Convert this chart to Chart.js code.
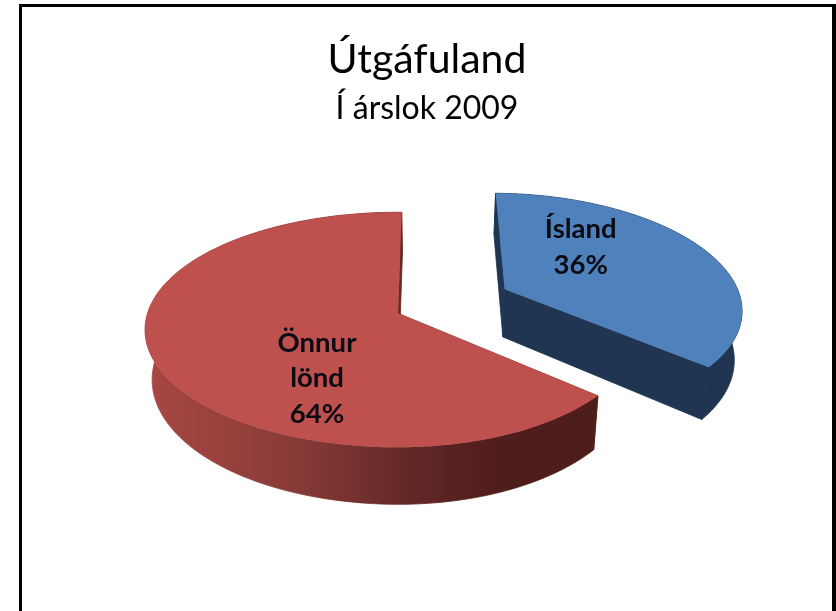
<!DOCTYPE html>
<html>
<head>
<meta charset="utf-8">
<script src="https://cdn.jsdelivr.net/npm/chart.js@4"></script>
<style>
html,body{margin:0;padding:0;background:#fff;overflow:hidden}
#frame{position:absolute;left:19px;top:4px;width:817px;height:607px;box-sizing:border-box;
border-left:3px solid #000;border-top:3px solid #000;border-right:4px solid #000;background:#fff}
canvas{display:block}
</style>
</head>
<body>
<div id="frame"><canvas id="c" width="810" height="604"></canvas></div>
<script>
const categories = ['Ísland', 'Önnur lönd'];
const labelLines = [['Ísland'], ['Önnur', 'lönd']];
const values = [36, 64];
const titleText = 'Útgáfuland';
const subtitleText = 'Í árslok 2009';
const topColors = ['#4F81BD', '#BE504D'];

const RADIUS = 200, EXPLODE = [96, 0];
const PERSP = 0.1404, SCALE_X = 250.5 / RADIUS, SCALE_Y = 115.2 / RADIUS;
const DEPTH = 49, SHRINK = 0.975, VANISH_X = 408;
const SHIFT_X = -29, NUDGE_Y = [-2, 0], RIGHT_SQUEEZE = 0.955;
const LABEL_OFFSET = [[76, -42], [-81, 65]];
const LINE_GAP = 35.5;

function rawProject(px, py) {
  const u = px / RADIUS, v = py / RADIUS, w = 1 - PERSP * v;
  return [SCALE_X * RADIUS * u / w, SCALE_Y * RADIUS * v / w, w];
}
function pieProject(cx, cy, ox, oy, px, py, nudge) {
  const c0 = rawProject(ox, oy), r = rawProject(px, py);
  let dx = r[0] - c0[0];
  if (dx > 0) dx *= RIGHT_SQUEEZE;
  const X = cx + SHIFT_X + c0[0] + dx, Y = cy + r[1] + nudge;
  return {top: [X, Y], bot: [VANISH_X + (X - VANISH_X) * SHRINK, Y + DEPTH / r[2]]};
}
function fillPoly(ctx, list, style, seal) {
  ctx.beginPath();
  list.forEach((p, i) => i ? ctx.lineTo(p[0], p[1]) : ctx.moveTo(p[0], p[1]));
  ctx.closePath();
  ctx.fillStyle = style;
  ctx.fill();
  if (seal) { ctx.strokeStyle = style; ctx.lineWidth = 0.8; ctx.stroke(); }
}
function sliceGeometry(arc, i) {
  const {x, y, startAngle: a0, endAngle: a1} = arc.getProps(['x', 'y', 'startAngle', 'endAngle'], true);
  const mid = (a0 + a1) / 2, ox = arc.options.offset * Math.cos(mid), oy = arc.options.offset * Math.sin(mid);
  const pts = [], n = 160;
  for (let k = 0; k <= n; k++) {
    const a = a0 + (a1 - a0) * k / n;
    pts.push(pieProject(x, y, ox, oy, ox + RADIUS * Math.cos(a), oy + RADIUS * Math.sin(a), NUDGE_Y[i]));
  }
  return {pts, c: pieProject(x, y, ox, oy, ox, oy, NUDGE_Y[i])};
}

const pie3d = {
  id: 'pie3d',
  beforeDatasetsDraw(chart) {
    const ctx = chart.ctx, meta = chart.getDatasetMeta(0);
    const redWall = ctx.createLinearGradient(150 - 22, 0, 600 - 22, 0);
    redWall.addColorStop(0, '#A84743');
    redWall.addColorStop(0.333, '#873A37');
    redWall.addColorStop(0.6, '#5F2624');
    redWall.addColorStop(0.78, '#4F1D1B');
    redWall.addColorStop(1, '#4E1E1C');
    const walls = ['#1F3552', redWall], sliver = ['#1F3552', '#8A3B38'];
    [1, 0].forEach(i => {
      const {pts, c} = sliceGeometry(meta.data[i], i);
      const first = pts[0], last = pts[pts.length - 1];
      ctx.save();
      fillPoly(ctx, [c.top, first.top, first.bot, c.bot], sliver[i], true);
      fillPoly(ctx, [c.top, last.top, last.bot, c.bot], walls[i], true);
      fillPoly(ctx, pts.map(p => p.top).concat(pts.slice().reverse().map(p => p.bot)), walls[i], true);
      fillPoly(ctx, [c.top].concat(pts.map(p => p.top)), topColors[i], false);
      ctx.restore();
    });
    ctx.save();
    ctx.fillStyle = '#0B0B14';
    ctx.font = 'bold 27.5px Lato';
    ctx.textAlign = 'center';
    ctx.textBaseline = 'middle';
    [0, 1].forEach(i => {
      const {c} = sliceGeometry(meta.data[i], i);
      const lines = labelLines[i].concat([values[i] + '%']);
      lines.forEach((t, k) => {
        ctx.fillText(t, c.top[0] + LABEL_OFFSET[i][0],
          c.top[1] + LABEL_OFFSET[i][1] + (k - (lines.length - 1) / 2) * LINE_GAP);
      });
    });
    ctx.restore();
    return false;
  }
};

new Chart(document.getElementById('c'), {
  type: 'pie',
  data: {
    labels: categories,
    datasets: [{data: values, backgroundColor: topColors, borderWidth: 0, offset: EXPLODE, radius: RADIUS}]
  },
  options: {
    responsive: false,
    animation: false,
    radius: RADIUS,
    rotation: 1,
    layout: {padding: {left: 0, right: 0, top: 0, bottom: 112}},
    plugins: {
      legend: {display: false},
      tooltip: {enabled: false},
      title: {display: true, text: titleText, color: '#000',
        font: {family: 'Lato', size: 41, weight: 'normal', lineHeight: 1.2}, padding: {top: 28, bottom: 0}},
      subtitle: {display: true, text: subtitleText, color: '#000',
        font: {family: 'Lato', size: 32, weight: 'normal', lineHeight: 1.2}, padding: {top: 5, bottom: 0}}
    }
  },
  plugins: [pie3d]
});
</script>
</body>
</html>
